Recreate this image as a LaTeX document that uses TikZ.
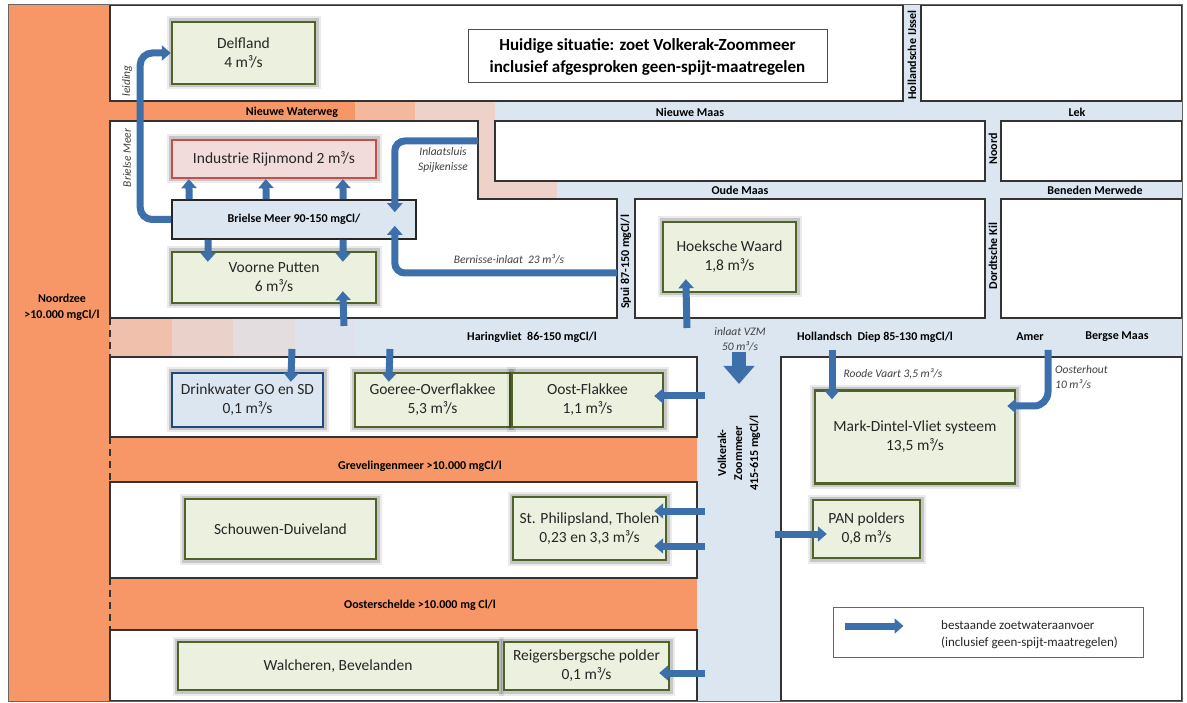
\documentclass[tikz,border=0pt]{standalone}
\usepackage{fontspec}
\setmainfont{Carlito}
\usetikzlibrary{arrows.meta,positioning,calc}

\definecolor{sea}{RGB}{247,150,102}
\definecolor{river}{RGB}{220,230,241}
\definecolor{nwwa}{RGB}{244,184,156}
\definecolor{nwwb}{RGB}{238,210,202}
\definecolor{hva}{RGB}{240,192,172}
\definecolor{hvb}{RGB}{234,210,203}
\definecolor{hvc}{RGB}{228,221,224}
\definecolor{hvd}{RGB}{222,226,236}
\definecolor{boxfill}{RGB}{235,241,222}
\definecolor{boxline}{RGB}{79,98,40}
\definecolor{indfill}{RGB}{242,220,219}
\definecolor{indline}{RGB}{192,80,77}
\definecolor{dwline}{RGB}{31,73,125}
\definecolor{flowblue}{RGB}{61,111,171}

\newcommand{\fsz}[2]{\fontsize{#1}{#2}\selectfont}

\begin{document}
\begin{tikzpicture}[x=1pt, y=-1pt,
  area/.style={draw=boxline, line width=2.4pt, fill=boxfill, text=black!85,
    align=center, inner sep=0pt, font=\fsz{15.5}{19},
    preaction={draw=black, line width=11pt, opacity=0.08},
    preaction={draw=black, line width=7pt, opacity=0.15}},
  chan/.style={font=\bfseries\fsz{12}{16}, inner sep=0pt},
  note/.style={font=\itshape\fsz{11.5}{15}, text=black!75, inner sep=0pt},
  flow/.style={draw=flowblue, line width=7pt, -{Triangle[length=9pt,width=15pt]}},
  land/.style={draw=black!80, line width=1.6pt, fill=white}]
  \useasboundingbox[fill=white] (0,0) rectangle (1187,703);
  % water
  \fill[river] (110,5) rectangle (1182,701);
  \fill[sea] (8,5) rectangle (110,701);
  \fill[sea] (110,101) rectangle (355,121);
  \fill[nwwa] (355,101) rectangle (415,121);
  \fill[nwwb] (415,101) rectangle (495,121);
  \fill[nwwb] (478,121) rectangle (495,199);
  \fill[nwwb] (478,181) rectangle (557,199);
  \foreach \xa/\xb/\c in {110/172/hva, 172/233/hvb, 233/295/hvc, 295/355/hvd}
    \fill[\c] (\xa,318) rectangle (\xb,357);
  \fill[sea] (110,437) rectangle (697,482);
  \fill[sea] (110,578) rectangle (697,630);
  % land
  \draw[land] (110,5) rectangle (903,101);
  \draw[land] (921,5) rectangle (1182,101);
  \draw[land] (110,121) -- (478,121) -- (478,199) -- (617,199) -- (617,318) -- (110,318) -- cycle;
  \draw[land] (495,121) rectangle (985,181);
  \draw[land] (1001,121) rectangle (1182,181);
  \draw[land] (635,199) rectangle (985,318);
  \draw[land] (1001,199) rectangle (1182,318);
  \draw[land] (110,357) rectangle (697,437);
  \draw[land] (110,482) rectangle (697,578);
  \draw[land] (110,630) rectangle (697,701);
  \draw[land] (781,357) rectangle (1182,701);
  \foreach \ya/\yb in {318/357, 437/482, 578/630}
    \draw[black!80, line width=1.6pt, dash pattern=on 7pt off 5pt] (110,\ya) -- (110,\yb);
  \draw[black!60, line width=1pt] (8,5) rectangle (1182,701);

  % water names
  \node[chan, align=center] (nz) at (62,307) {Noordzee\\>10.000 mgCl/l};
  \node[chan] (nww) at (292,112) {Nieuwe Waterweg};
  \node[chan] (nm) at (690,112) {Nieuwe Maas};
  \node[chan] (lek) at (1077,112) {Lek};
  \node[chan] (om) at (740,190) {Oude Maas};
  \node[chan] (bmw) at (1095,190) {Beneden Merwede};
  \node[chan] (hv) at (532,337) {Haringvliet\ \ 86-150 mgCl/l};
  \node[chan] (hd) at (875,337) {Hollandsch\ \ Diep 85-130 mgCl/l};
  \node[chan] (amer) at (1030,337) {Amer};
  \node[chan] (bgm) at (1117,337) {Bergse Maas};
  \node[chan] (grev) at (420,466) {Grevelingenmeer >10.000 mgCl/l};
  \node[chan] (osch) at (420,605) {Oosterschelde >10.000 mg Cl/l};
  \node[chan, rotate=90] (hij) at (912,55) {Hollandsche IJssel};
  \node[chan, rotate=90] (noord) at (993,149) {Noord};
  \node[chan, rotate=90] (dk) at (993,256) {Dordtsche Kil};
  \node[chan, rotate=90] (spui) at (626,262) {Spui 87-150 mgCl/l};
  \node[chan, rotate=90, align=center] (vzm) at (739,453) {Volkerak-\\Zoommeer\\415-615 mgCl/l};

  % title and areas
  \node[draw=black!70, line width=1pt, fill=white, minimum width=359pt, minimum height=53pt,
    align=center, font=\bfseries\fsz{17}{22}] (title) at (647.5,56.5)
    {Huidige situatie: zoet Volkerak-Zoommeer\\inclusief afgesproken geen-spijt-maatregelen};
  \node[area, minimum width=143pt, minimum height=62pt] (delf) at (243.5,53) {Delfland\\4 m³/s};
  \node[area, draw=indline, fill=indfill, minimum width=204pt, minimum height=38pt] (ind) at (274,159) {Industrie Rijnmond 2 m³/s};
  \node[draw=black!85, line width=1.6pt, fill=river, minimum width=244pt, minimum height=39pt,
    font=\bfseries\fsz{12}{16}] (bm) at (294,219.5) {Brielse Meer 90-150 mgCl/};
  \node[area, minimum width=204pt, minimum height=51pt] (vp) at (274,277.5) {Voorne Putten\\6 m³/s};
  \node[area, minimum width=133pt, minimum height=70pt] (hw) at (729.5,257) {Hoeksche Waard\\1,8 m³/s};
  \node[area, draw=dwline, fill=river, minimum width=151pt, minimum height=54pt] (dw) at (247.5,400) {Drinkwater GO en SD\\0,1 m³/s};
  \node[area, minimum width=155pt, minimum height=54pt] (go) at (432.5,400) {Goeree-Overflakkee\\5,3 m³/s};
  \node[area, minimum width=151pt, minimum height=54pt] (of) at (587.5,400) {Oost-Flakkee\\1,1 m³/s};
  \node[area, minimum width=200pt, minimum height=93pt] (mdv) at (915,437) {Mark-Dintel-Vliet systeem\\13,5 m³/s};
  \node[area, minimum width=191pt, minimum height=60pt] (sd) at (280.5,529) {Schouwen-Duiveland};
  \node[area, minimum width=153pt, minimum height=63pt] (sp) at (589.5,528.5) {St. Philipsland, Tholen\\0,23 en 3,3 m³/s};
  \node[area, minimum width=107pt, minimum height=58pt] (pan) at (866.5,529) {PAN polders\\0,8 m³/s};
  \node[area, minimum width=320pt, minimum height=48pt] (wb) at (338,666) {Walcheren, Bevelanden};
  \node[area, minimum width=165pt, minimum height=48pt] (rb) at (586.5,666) {Reigersbergsche polder\\0,1 m³/s};

  % flow names
  \node[note, rotate=90] (leid) at (127,81) {leiding};
  \node[note, rotate=90] (bmr) at (127,158) {Brielse Meer};
  \node[note, align=center] (insl) at (443,160) {Inlaatsluis\\Spijkenisse};
  \node[note] (bern) at (509,259) {Bernisse-inlaat\ \ 23 m³/s};
  \node[note, align=center] (ivzm) at (740,339) {inlaat VZM\\50 m³/s};
  \node[note] (rv) at (893,374) {Roode Vaart 3,5 m³/s};
  \node[note, align=left, anchor=north west] (ooh) at (1055,365) {Oosterhout\\10 m³/s};

  % flows
  \foreach \dx in {18,95,172}
    \draw[flow] ($(bm.north west)+(\dx,0)$) -- ($(ind.south west)+(\dx,0)$);
  \foreach \dx in {37,172}
    \draw[flow] ($(bm.south west)+(\dx,0)$) -- ($(vp.north west)+(\dx,11)$);
  \draw[flow, rounded corners=12pt] (bm.west) -- ++(-31,0) |- (delf.west);
  \coordinate (spk) at (478,141);
  \coordinate (bern0) at (617,273);
  \draw[flow, rounded corners=10pt] (spk) -| ($(bm.north east)+(-22,13)$);
  \draw[flow, rounded corners=10pt] (bern0) -| ($(bm.south east)+(-22,-14)$);
  \coordinate (hvvp) at (344,326);
  \coordinate (hvhw) at (687,328);
  \coordinate (hvdw) at (292,349);
  \coordinate (hvgo) at (390,349);
  \draw[flow] (hvvp) -- ($(vp.south west)+(172,-13)$);
  \draw[flow] (hvhw) -- ($(hw.south west)+(24,-14)$);
  \draw[flow] (hvdw) -- ($(dw.north west)+(120,10)$);
  \draw[flow] (hvgo) -- ($(go.north west)+(35,10)$);
  \coordinate (vzma) at (739,352);
  \coordinate (vzmb) at (739,384);
  \draw[flow, line width=14pt, -{Triangle[length=18pt,width=30pt]}] (vzma) -- (vzmb);
  \coordinate (vkof) at (705,396);
  \draw[flow] (vkof) -- ($(vkof -| of.east)+(-10,0)$);
  \foreach \y/\n in {511/a, 546/b}
    {
      \coordinate (vksp\n) at (705,\y);
      \draw[flow] (vksp\n) -- ($(vksp\n -| sp.east)+(-13,0)$);
    }
  \coordinate (vkrb) at (705,673);
  \draw[flow] (vkrb) -- ($(vkrb -| rb.east)+(-11,0)$);
  \coordinate (vkpan) at (775,534);
  \draw[flow] (vkpan) -- ($(vkpan -| pan.west)+(15,0)$);
  \coordinate (hdrv) at (832,350);
  \draw[flow] (hdrv) -- ($(hdrv |- mdv.north)+(0,10)$);
  \coordinate (amoh) at (1048,350);
  \draw[flow, rounded corners=14pt] (amoh) |- ($(mdv.east)+(-9,-31)$);

  % legend
  \node[draw=black!60, line width=1pt, fill=white, minimum width=310pt, minimum height=50pt] (leg) at (988,632) {};
  \node[anchor=west, align=left, inner sep=0pt, text=black!85, font=\fsz{13}{17}] (legtxt) at (941,634.5)
    {bestaande zoetwateraanvoer\\(inclusief geen-spijt-maatregelen)};
  \coordinate (lega) at ($(leg.west)+(12,-6)$);
  \coordinate (legb) at ($(leg.west)+(71,-6)$);
  \draw[flow] (lega) -- (legb);
\end{tikzpicture}
\end{document}
